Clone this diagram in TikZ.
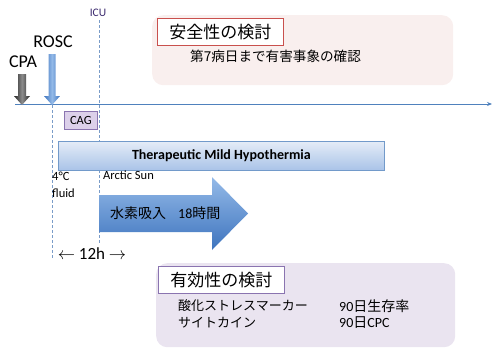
\documentclass[tikz,border=0pt]{standalone}
\usepackage{fontspec}
\setmainfont{Carlito}
\newfontfamily\jp{Noto Sans CJK JP}
\usepackage{xcolor}
\definecolor{lineblue}{HTML}{4F81BD}
\definecolor{dashblue}{HTML}{7A9CC8}
\definecolor{pinkbg}{HTML}{F9EFEE}
\definecolor{lavbg}{HTML}{EAE4F0}
\definecolor{redframe}{HTML}{C9504D}
\definecolor{purpframe}{HTML}{8A74B0}
\definecolor{cagfill}{HTML}{DCD0EA}
\definecolor{barlight}{HTML}{E4ECF7}
\definecolor{bardark}{HTML}{A9C3E8}
\definecolor{arrlight}{HTML}{94BAE8}
\definecolor{arrdark}{HTML}{3E74BE}
\definecolor{icutext}{HTML}{3B2A6E}
\usetikzlibrary{arrows.meta}

\begin{document}
\begin{tikzpicture}[x=1pt, y=-1pt,
  lbl/.style={inner sep=0pt, anchor=west},
  dashline/.style={draw=dashblue, dash pattern=on 3pt off 2pt, line width=0.8pt},
  panel/.style={rounded corners=11pt, minimum width=#1, anchor=north west, inner sep=0pt},
  titlebox/.style={draw=#1, fill=white, line width=0.8pt, minimum width=126pt,
                   minimum height=27pt, anchor=north west, inner sep=0pt,
                   font=\jp\fontsize{17}{20}\selectfont}
]
  \useasboundingbox (0,0) rectangle (493,348);

  % Panels
  \node[panel=301pt, fill=pinkbg, minimum height=70pt] (safety) at (152,15) {};
  \node[panel=299pt, fill=lavbg, minimum height=84pt] (efficacy) at (156,263) {};
  \node[titlebox=redframe] (safetytitle) at (157,18) {安全性の検討};
  \node[titlebox=purpframe] (efftitle) at (158,266) {有効性の検討};
  \node[lbl, font=\jp\fontsize{13.6}{15}\selectfont] (adverse) at (190,56) {第7病日まで有害事象の確認};
  \node[lbl, font=\jp\fontsize{13}{15}\selectfont] (oxid) at (178,306) {酸化ストレスマーカー};
  \node[lbl, font=\jp\fontsize{13}{15}\selectfont] (cyto) at (178,323) {サイトカイン};
  \node[lbl, font=\fontsize{14}{15}\selectfont] (surv) at (339,306) {90{\jp 日生存率}};
  \node[lbl, font=\fontsize{14}{15}\selectfont] (cpc) at (339,323) {90{\jp 日}CPC};

  % Timeline
  \coordinate (tstart) at (15,104);
  \coordinate (tend) at (492,104);
  \draw[lineblue, line width=0.8pt, -{Stealth[length=5pt, width=4pt]}] (tstart) -- (tend);

  % Dashed markers
  \coordinate (rosctop) at (52,105);
  \coordinate (roscbot) at (52,258);
  \coordinate (icutop) at (99,20);
  \coordinate (icubot) at (99,243);
  \draw[dashline] (rosctop) -- (roscbot);
  \draw[dashline] (icutop) -- (icubot);

  % Event arrows
  \shade[left color=black!85, right color=black!85, middle color=black!45]
    (18,74) -- (26,74) -- (26,96) -- (30,96) -- (22,105) -- (14,96) -- (18,96) -- cycle;
  \shade[left color=arrdark, right color=arrdark, middle color=arrlight]
    (48.5,54) -- (55.5,54) -- (55.5,96) -- (60,96) -- (52,105) -- (44,96) -- (48.5,96) -- cycle;
  \node[font=\fontsize{18}{20}\selectfont] (cpa) at (23,62) {CPA};
  \node[font=\fontsize{18}{20}\selectfont] (rosc) at (53,42) {ROSC};
  \node[font=\fontsize{11.5}{13}\selectfont, text=icutext] (icu) at (98,13) {ICU};

  % CAG
  \node[draw=purpframe, fill=cagfill, line width=0.8pt, minimum width=33pt, minimum height=18pt,
        anchor=north west, inner sep=0pt, font=\fontsize{12.5}{14}\selectfont] (cag) at (64,111) {CAG};

  % Hypothermia bar
  \node[draw=lineblue!80, top color=barlight, bottom color=bardark, line width=0.8pt,
        minimum width=326pt, minimum height=29pt, anchor=north west, inner sep=0pt,
        font=\bfseries\fontsize{14}{16}\selectfont] (tmh) at (58,141) {Therapeutic Mild Hypothermia};
  \node[lbl, font=\fontsize{12.5}{14}\selectfont] (fluid) at (52,176) {4°C};
  \node[lbl, font=\fontsize{12.5}{14}\selectfont] at (52,193) {fluid};
  \node[lbl, font=\fontsize{12.5}{14}\selectfont] (arctic) at (103,175) {Arctic Sun};

  % Hydrogen inhalation arrow
  \shade[top color=arrlight, bottom color=arrdark]
    (99,195) -- (212,195) -- (212,177) -- (248,213.5) -- (212,250) -- (212,232) -- (99,232) -- cycle;
  \node[lbl, font=\fontsize{14}{16}\selectfont] (h2) at (110,213.5) {{\jp 水素吸入}\hspace{12pt}18{\jp 時間}};

  % Window
  \node[font=\fontsize{17}{20}\selectfont] (window) at (92,254) {$\leftarrow$ 12h $\rightarrow$};
\end{tikzpicture}
\end{document}
